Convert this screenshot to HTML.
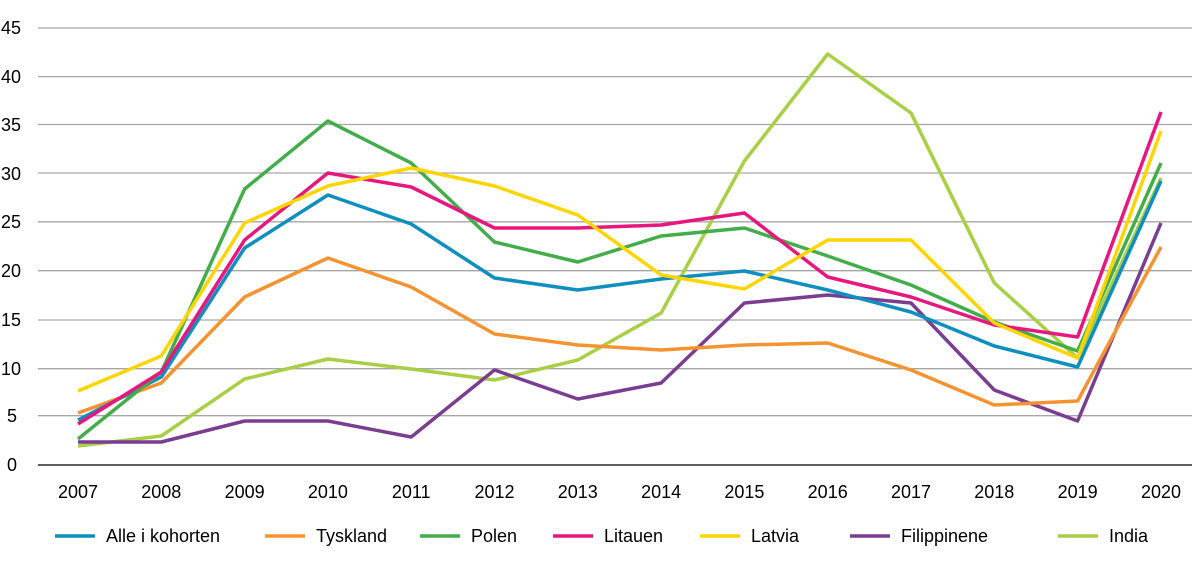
<!DOCTYPE html>
<html><head><meta charset="utf-8"><style>
html,body{margin:0;padding:0;background:#fff;}
svg{display:block;font-family:"Liberation Sans",sans-serif;}
</style></head><body>
<svg width="1200" height="564" viewBox="0 0 1200 564" xmlns="http://www.w3.org/2000/svg">
<g stroke="#a6a6a6" stroke-width="1.3">
<line x1="38" x2="1192" y1="28" y2="28"/>
<line x1="38" x2="1192" y1="76.6" y2="76.6"/>
<line x1="38" x2="1192" y1="124.5" y2="124.5"/>
<line x1="38" x2="1192" y1="173" y2="173"/>
<line x1="38" x2="1192" y1="221.8" y2="221.8"/>
<line x1="38" x2="1192" y1="270.7" y2="270.7"/>
<line x1="38" x2="1192" y1="320" y2="320"/>
<line x1="38" x2="1192" y1="368.7" y2="368.7"/>
<line x1="38" x2="1192" y1="415.7" y2="415.7"/>
</g>
<line x1="38" x2="1192" y1="465" y2="465" stroke="#000" stroke-width="1.3"/>
<g font-size="18" fill="#000" text-anchor="start">
<text x="1" y="34">45</text><text x="1" y="83">40</text><text x="1" y="131">35</text>
<text x="1" y="180">30</text><text x="1" y="228">25</text><text x="1" y="277">20</text>
<text x="1" y="326">15</text><text x="1" y="375">10</text><text x="7" y="422">5</text><text x="7" y="471">0</text>
</g>
<g font-size="18" fill="#000" text-anchor="middle">
<text x="78" y="498">2007</text><text x="161.3" y="498">2008</text><text x="244.6" y="498">2009</text>
<text x="327.9" y="498">2010</text><text x="411.2" y="498">2011</text><text x="494.5" y="498">2012</text>
<text x="577.8" y="498">2013</text><text x="661.1" y="498">2014</text><text x="744.4" y="498">2015</text>
<text x="827.7" y="498">2016</text><text x="911" y="498">2017</text><text x="994.3" y="498">2018</text>
<text x="1077.6" y="498">2019</text><text x="1161" y="498">2020</text>
</g>
<g fill="none" stroke-width="3.5" stroke-linejoin="round">
<polyline stroke="#a8cf45" points="78,446 161.3,436 244.6,379 327.9,359 411.2,369 494.5,380 577.8,360 661.1,313 744.4,161 827.7,54 911,113 994.3,283 1077.6,358 1161,178"/>
<polyline stroke="#7a3d91" points="78,442 161.3,442 244.6,421 327.9,421 411.2,437 494.5,370 577.8,399 661.1,383 744.4,303 827.7,295 911,303 994.3,390 1077.6,421 1161,223"/>
<polyline stroke="#f59331" points="78,413 161.3,383 244.6,297 327.9,258 411.2,287 494.5,334 577.8,345 661.1,350 744.4,345 827.7,343 911,370 994.3,405 1077.6,401 1161,247"/>
<polyline stroke="#0f8fbf" points="78,420 161.3,377 244.6,248 327.9,195 411.2,224 494.5,278 577.8,290 661.1,279 744.4,271 827.7,290 911,312 994.3,346 1077.6,367 1161,181"/>
<polyline stroke="#43ad4a" points="78,439 161.3,372 244.6,189 327.9,121 411.2,163 494.5,242 577.8,262 661.1,236 744.4,228 827.7,256 911,285 994.3,322 1077.6,351 1161,163"/>
<polyline stroke="#e6177f" points="78,424 161.3,372 244.6,240 327.9,173 411.2,187 494.5,228 577.8,228 661.1,225 744.4,213 827.7,277 911,297 994.3,325 1077.6,337 1161,112"/>
<polyline stroke="#ffd500" points="78,391 161.3,356 244.6,223 327.9,186 411.2,168 494.5,186 577.8,215 661.1,275 744.4,289 827.7,240 911,240 994.3,323 1077.6,358 1161,131"/>
</g>
<g stroke-width="3.5">
<line x1="55" x2="95" y1="536" y2="536" stroke="#0f8fbf"/>
<line x1="265" x2="305" y1="536" y2="536" stroke="#f59331"/>
<line x1="420" x2="460" y1="536" y2="536" stroke="#43ad4a"/>
<line x1="553" x2="593" y1="536" y2="536" stroke="#e6177f"/>
<line x1="700" x2="740" y1="536" y2="536" stroke="#ffd500"/>
<line x1="850" x2="890" y1="536" y2="536" stroke="#7a3d91"/>
<line x1="1058" x2="1098" y1="536" y2="536" stroke="#a8cf45"/>
</g>
<g font-size="18" fill="#000">
<text x="106" y="542">Alle i kohorten</text>
<text x="316" y="542">Tyskland</text>
<text x="471" y="542">Polen</text>
<text x="604" y="542">Litauen</text>
<text x="751" y="542">Latvia</text>
<text x="901" y="542">Filippinene</text>
<text x="1109" y="542">India</text>
</g>
</svg>
</body></html>
